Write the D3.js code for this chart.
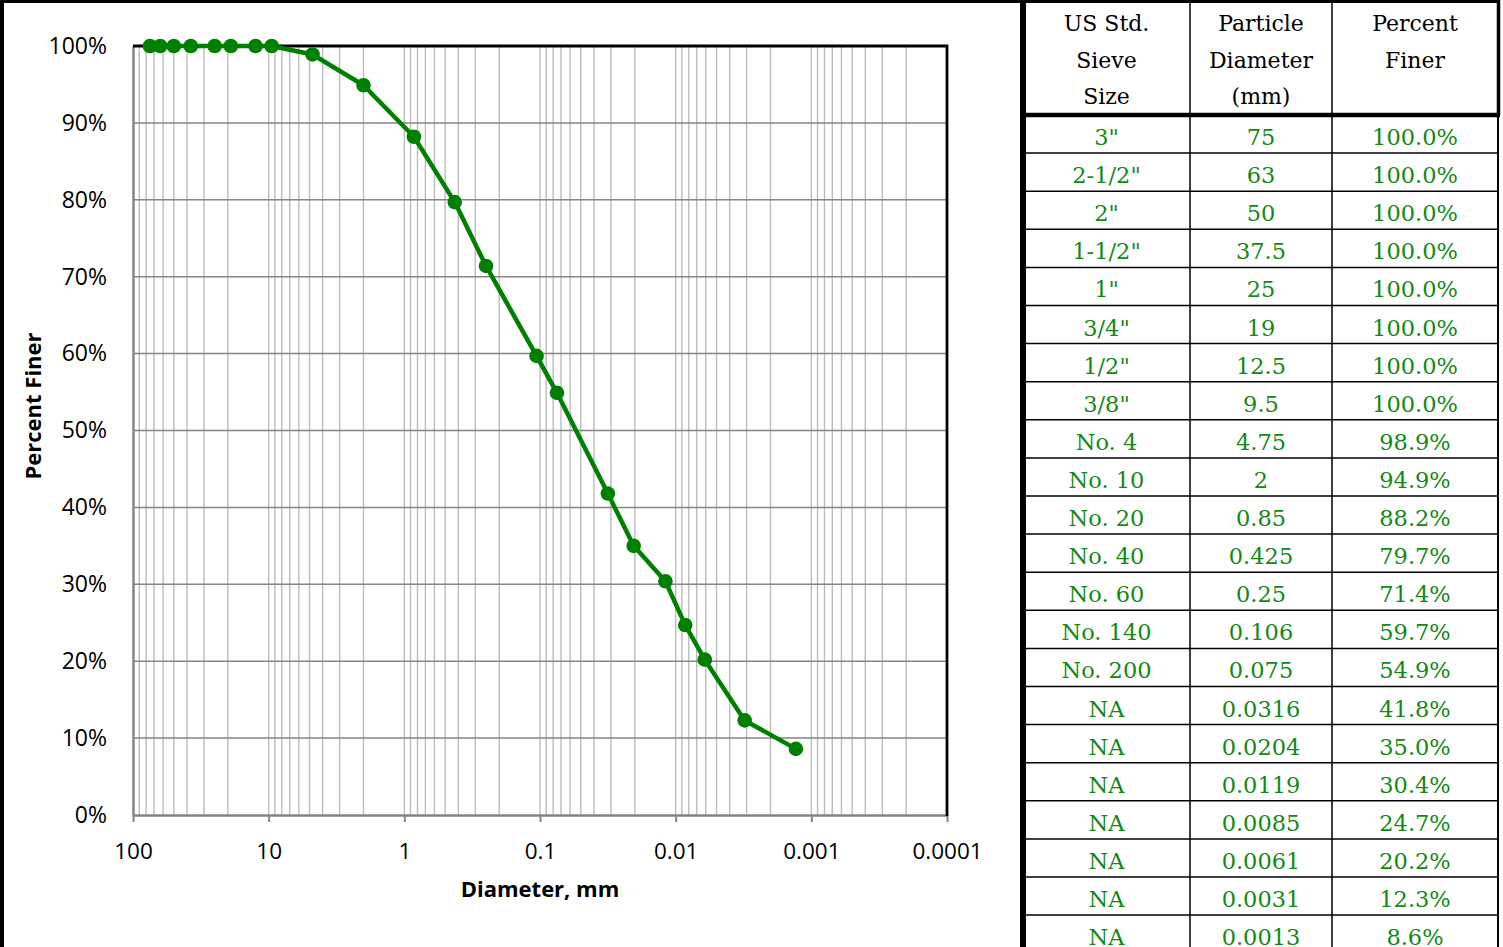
<!DOCTYPE html>
<html>
<head>
<meta charset="utf-8">
<script src="https://cdn.jsdelivr.net/npm/d3@7"></script>
<style>
  body { margin: 0; background: #fff; }
  svg { display: block; }
</style>
</head>
<body>
<svg width="1503" height="947"></svg>
<script>
// sieve analysis data
var sieveSizes = ['3"', '2-1/2"', '2"', '1-1/2"', '1"', '3/4"', '1/2"', '3/8"', 'No. 4', 'No. 10',
  'No. 20', 'No. 40', 'No. 60', 'No. 140', 'No. 200', 'NA', 'NA', 'NA', 'NA', 'NA', 'NA', 'NA'];
var diameters = [75, 63, 50, 37.5, 25, 19, 12.5, 9.5, 4.75, 2, 0.85, 0.425, 0.25, 0.106, 0.075,
  0.0316, 0.0204, 0.0119, 0.0085, 0.0061, 0.0031, 0.0013];
var percentFiner = [1, 1, 1, 1, 1, 1, 1, 1, 0.989, 0.949, 0.882, 0.797, 0.714, 0.597, 0.549,
  0.418, 0.350, 0.304, 0.247, 0.202, 0.123, 0.086];

var headerLines = [['US Std.', 'Sieve', 'Size'], ['Particle', 'Diameter', '(mm)'], ['Percent', 'Finer']];
var xTickValues = [100, 10, 1, 0.1, 0.01, 0.001, 0.0001];
var xTickLabels = ['100', '10', '1', '0.1', '0.01', '0.001', '0.0001'];
var yTickValues = [0, 0.1, 0.2, 0.3, 0.4, 0.5, 0.6, 0.7, 0.8, 0.9, 1];

var svg = d3.select('svg');
var green = '#008000';

// ---- chart ----
var plotLeft = 133, plotRight = 947, plotTop = 46, plotBottom = 815;

var x = d3.scaleLog().domain([100, 0.0001]).range([plotLeft, plotRight]);
var y = d3.scaleLinear().domain([0, 1]).range([plotBottom, plotTop]);

var chart = svg.append('g');

// minor vertical grid (1..9 per decade)
chart.append('g')
  .selectAll('line')
  .data(x.ticks().filter(function(d) { return d < 100 && d > 0.0001; }))
  .enter().append('line')
  .attr('x1', function(d) { return x(d); })
  .attr('x2', function(d) { return x(d); })
  .attr('y1', plotTop)
  .attr('y2', plotBottom)
  .attr('stroke', '#bcbcbc')
  .attr('stroke-width', 1.4);

// horizontal grid
chart.append('g')
  .selectAll('line')
  .data(yTickValues.filter(function(d) { return d > 0 && d < 1; }))
  .enter().append('line')
  .attr('x1', plotLeft)
  .attr('x2', plotRight)
  .attr('y1', function(d) { return y(d); })
  .attr('y2', function(d) { return y(d); })
  .attr('stroke', '#858585')
  .attr('stroke-width', 1.5);

// x axis
var xAxis = d3.axisBottom(x)
  .tickValues(xTickValues)
  .tickFormat(function(d, i) { return xTickLabels[i]; })
  .tickSizeInner(7)
  .tickSizeOuter(0)
  .tickPadding(21);

chart.append('g')
  .attr('transform', 'translate(0,' + plotBottom + ')')
  .call(xAxis)
  .call(function(g) {
    g.select('.domain').attr('stroke', '#858585').attr('stroke-width', 2.5);
    g.selectAll('.tick line').attr('stroke', '#858585').attr('stroke-width', 2);
    g.selectAll('.tick text')
      .attr('font-family', 'Open Sans')
      .attr('font-size', 22.5)
      .attr('fill', '#000');
  });

// y axis
var yAxis = d3.axisLeft(y)
  .tickValues(yTickValues)
  .tickFormat(d3.format('.0%'))
  .tickSize(0)
  .tickPadding(26);

chart.append('g')
  .attr('transform', 'translate(' + plotLeft + ',0)')
  .call(yAxis)
  .call(function(g) {
    g.select('.domain').attr('stroke', '#858585').attr('stroke-width', 2.5);
    g.selectAll('.tick text')
      .attr('font-family', 'Open Sans')
      .attr('font-size', 23)
      .attr('fill', '#000');
  });

// top and right border of plot area
chart.append('path')
  .attr('d', 'M' + plotLeft + ',' + plotTop + 'H' + plotRight + 'V' + (plotBottom + 1))
  .attr('fill', 'none')
  .attr('stroke', '#000')
  .attr('stroke-width', 2.8);

// axis titles
chart.append('text')
  .attr('x', 540)
  .attr('y', 897)
  .attr('text-anchor', 'middle')
  .attr('font-family', 'Open Sans')
  .attr('font-weight', 'bold')
  .attr('font-size', 22)
  .text('Diameter, mm');

chart.append('text')
  .attr('transform', 'translate(41,406) rotate(-90)')
  .attr('text-anchor', 'middle')
  .attr('font-family', 'Open Sans')
  .attr('font-weight', 'bold')
  .attr('font-size', 22)
  .text('Percent Finer');

// gradation curve
var points = diameters.map(function(d, i) { return [d, percentFiner[i]]; });

chart.append('path')
  .datum(points)
  .attr('d', d3.line()
    .x(function(d) { return x(d[0]); })
    .y(function(d) { return y(d[1]); }))
  .attr('fill', 'none')
  .attr('stroke', green)
  .attr('stroke-width', 4.5)
  .attr('stroke-linejoin', 'round');

chart.append('g')
  .selectAll('circle')
  .data(points)
  .enter().append('circle')
  .attr('cx', function(d) { return x(d[0]); })
  .attr('cy', function(d) { return y(d[1]); })
  .attr('r', 7.3)
  .attr('fill', green);

// ---- table ----
var colEdges = [1023, 1190, 1332, 1498];
var headerBottom = 115;
var rowH = 38.1;
var tbl = svg.append('g');
var tableFont = 'DejaVu Serif';

function rowTop(i) { return headerBottom + rowH * i; }

// header text
headerLines.forEach(function(lines, c) {
  var cx = (colEdges[c] + colEdges[c + 1]) / 2;
  tbl.append('g').selectAll('text')
    .data(lines)
    .enter().append('text')
    .attr('x', cx)
    .attr('y', function(d, k) { return 31 + k * 36.5; })
    .attr('text-anchor', 'middle')
    .attr('font-family', tableFont)
    .attr('font-size', 22)
    .attr('fill', '#000')
    .text(function(d) { return d; });
});

// body cells
var fmtPct = d3.format('.1%');
var cols = [
  function(i) { return sieveSizes[i]; },
  function(i) { return String(diameters[i]); },
  function(i) { return fmtPct(percentFiner[i]); }
];

cols.forEach(function(getText, c) {
  var cx = (colEdges[c] + colEdges[c + 1]) / 2;
  tbl.append('g').selectAll('text')
    .data(d3.range(sieveSizes.length))
    .enter().append('text')
    .attr('x', cx)
    .attr('y', function(i) { return rowTop(i) + 30; })
    .attr('text-anchor', 'middle')
    .attr('font-family', tableFont)
    .attr('font-size', 22.5)
    .attr('fill', '#138a13')
    .text(getText);
});

// row lines
tbl.append('g').selectAll('line')
  .data(d3.range(1, sieveSizes.length))
  .enter().append('line')
  .attr('x1', colEdges[0])
  .attr('x2', colEdges[3])
  .attr('y1', function(i) { return rowTop(i); })
  .attr('y2', function(i) { return rowTop(i); })
  .attr('stroke', '#000')
  .attr('stroke-width', 1.5);

// column dividers
tbl.append('g').selectAll('line')
  .data([colEdges[1], colEdges[2]])
  .enter().append('line')
  .attr('x1', function(d) { return d; })
  .attr('x2', function(d) { return d; })
  .attr('y1', 0)
  .attr('y2', 947)
  .attr('stroke', '#000')
  .attr('stroke-width', 1.5);

// right edge (thin in body, thick in header)
tbl.append('line')
  .attr('x1', 1498).attr('x2', 1498)
  .attr('y1', 0).attr('y2', 947)
  .attr('stroke', '#000').attr('stroke-width', 2);
tbl.append('line')
  .attr('x1', 1498.5).attr('x2', 1498.5)
  .attr('y1', 0).attr('y2', headerBottom)
  .attr('stroke', '#000').attr('stroke-width', 3.5);

// header bottom
tbl.append('line')
  .attr('x1', colEdges[0]).attr('x2', 1500)
  .attr('y1', headerBottom).attr('y2', headerBottom)
  .attr('stroke', '#000').attr('stroke-width', 4.5);

// left table border
tbl.append('rect')
  .attr('x', 1020).attr('y', 0)
  .attr('width', 6).attr('height', 947)
  .attr('fill', '#000');

// outer frame: top and left
svg.append('rect').attr('x', 0).attr('y', 0).attr('width', 1500).attr('height', 3).attr('fill', '#000');
svg.append('rect').attr('x', 0).attr('y', 0).attr('width', 4).attr('height', 947).attr('fill', '#000');
</script>
</body>
</html>
